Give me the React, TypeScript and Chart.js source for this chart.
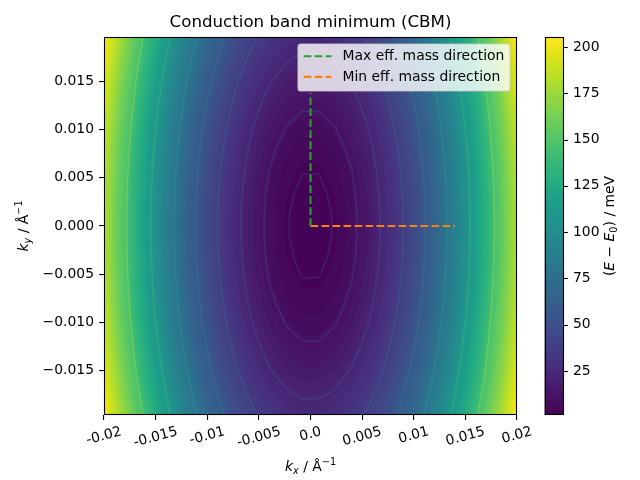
import React, { useEffect, useRef } from "react";
import { Chart, registerables } from "chart.js";

Chart.register(...registerables);

const FONT = '"DejaVu Sans", "Liberation Sans", sans-serif';
Chart.defaults.font.family = FONT;

// ---------------- data ----------------
const chartTitle = "Conduction band minimum (CBM)";

// sampling grid along kx (1/Å) and band energy contribution along kx (meV)
const kxGrid = [
  -0.02, -0.0184, -0.0168, -0.0152, -0.0136, -0.012, -0.0104, -0.0088, -0.0072, -0.0056, -0.004, -0.0024, -0.0008,
  0.0008, 0.0024, 0.004, 0.0056, 0.0072, 0.0088, 0.0104, 0.012, 0.0136, 0.0152, 0.0168, 0.0184, 0.02,
];
const energyAlongKx = [
  180.2, 152.5, 127.1, 104.1, 83.3, 64.9, 48.7, 34.9, 23.3, 14.1, 7.2, 2.6, 0.29,
  0.29, 2.6, 7.2, 14.1, 23.3, 34.9, 48.7, 64.9, 83.3, 104.1, 127.1, 152.5, 180.2,
];

// sampling grid along ky (1/Å) and band energy contribution along ky (meV)
const kyGrid = [
  -0.0196, -0.01729, -0.01499, -0.01268, -0.01038, -0.00807, -0.00576, -0.00346, -0.00115,
  0.00115, 0.00346, 0.00576, 0.00807, 0.01038, 0.01268, 0.01499, 0.01729, 0.0196,
];
const energyAlongKy = [
  24.39, 18.99, 14.27, 10.21, 6.84, 4.14, 2.11, 0.76, 0.08,
  0.08, 0.76, 2.11, 4.14, 6.84, 10.21, 14.27, 18.99, 24.39,
];
const energyOffset = 0.83;

const contourLineLevels = [3.0, 10.2, 21.6, 37.3, 56.7, 79.6, 108.6, 143.9];

const colorbarRange = [1.2, 205.4];
const colorbarTicks = [25, 50, 75, 100, 125, 150, 175, 200];

const xRange = [-0.02, 0.02];
const yRange = [-0.0196, 0.0196];
const xTicks = [-0.02, -0.015, -0.01, -0.005, 0, 0.005, 0.01, 0.015, 0.02];
const xTickLabels = ["-0.02", "-0.015", "-0.01", "-0.005", "0.0", "0.005", "0.01", "0.015", "0.02"];
const yTicks = [-0.015, -0.01, -0.005, 0, 0.005, 0.01, 0.015];

const maxMassLabel = "Max eff. mass direction";
const maxMassKx = [0, 0];
const maxMassKy = [0, 0.0138];
const minMassLabel = "Min eff. mass direction";
const minMassKx = [0, 0.014];
const minMassKy = [0, 0];

// ---------------- styling helpers ----------------
const FILL_LEVELS = 75;
const TICK_FONT = 13.9;

const VIRIDIS = [
  "#440154", "#471365", "#482475", "#463480", "#414487", "#3b528b", "#355f8d",
  "#2f6c8e", "#2a788e", "#25848e", "#21918c", "#1e9b8a", "#22a884", "#2fb47c",
  "#44bf70", "#5ec962", "#7ad151", "#9bd93c", "#bddf26", "#dfe318", "#fde725",
].map((h) => [parseInt(h.slice(1, 3), 16), parseInt(h.slice(3, 5), 16), parseInt(h.slice(5, 7), 16)]);

function viridis(t: number): number[] {
  const c = Math.max(0, Math.min(1, t));
  const p = c * (VIRIDIS.length - 1);
  const i = Math.min(VIRIDIS.length - 2, Math.floor(p));
  const f = p - i;
  return [0, 1, 2].map((k) => VIRIDIS[i][k] + (VIRIDIS[i + 1][k] - VIRIDIS[i][k]) * f);
}

function interp(xs: number[], ys: number[], x: number): number {
  const n = xs.length;
  if (x <= xs[0]) return ys[0];
  if (x >= xs[n - 1]) return ys[n - 1];
  let i = 0;
  while (x > xs[i + 1]) i++;
  const f = (x - xs[i]) / (xs[i + 1] - xs[i]);
  return ys[i] + f * (ys[i + 1] - ys[i]);
}

function bandColor(v: number): number[] {
  const [lo, hi] = colorbarRange;
  const step = (hi - lo) / FILL_LEVELS;
  let b = Math.floor((v - lo) / step);
  b = Math.max(0, Math.min(FILL_LEVELS - 1, b));
  const mid = lo + (b + 0.5) * step;
  return viridis((mid - lo) / (hi - lo));
}

type Seg = { t: string; it?: boolean; sc?: "sub" | "sup" };

function drawMath(ctx: CanvasRenderingContext2D, segs: Seg[], size: number, cx: number, baseY: number) {
  const fonts = segs.map((s) => `${s.it ? "italic " : ""}${s.sc ? size * 0.7 : size}px ${FONT}`);
  const widths = segs.map((s, i) => {
    ctx.font = fonts[i];
    return ctx.measureText(s.t).width;
  });
  const total = widths.reduce((a, b) => a + b, 0);
  let x = cx - total / 2;
  ctx.textAlign = "left";
  ctx.textBaseline = "alphabetic";
  segs.forEach((s, i) => {
    ctx.font = fonts[i];
    const dy = s.sc === "sub" ? size * 0.2 : s.sc === "sup" ? -size * 0.42 : 0;
    ctx.fillText(s.t, x, baseY + dy);
    x += widths[i];
  });
}

// ---------------- plugins ----------------
const fieldPlugin = {
  id: "bandField",
  beforeDatasetsDraw(chart: any) {
    const { ctx, chartArea: a, scales } = chart;
    const xs = scales.x;
    const ys = scales.y;
    const L = Math.round(a.left);
    const T = Math.round(a.top);
    const W = Math.round(a.right) - L;
    const H = Math.round(a.bottom) - T;
    const ex = new Float64Array(W);
    const gx = new Float64Array(W);
    const ey = new Float64Array(H);
    const gy = new Float64Array(H);
    const exAt = (p: number) => interp(kxGrid, energyAlongKx, xs.getValueForPixel(p));
    const eyAt = (p: number) => interp(kyGrid, energyAlongKy, ys.getValueForPixel(p));
    for (let i = 0; i < W; i++) {
      const p = L + i + 0.5;
      ex[i] = exAt(p);
      gx[i] = (exAt(p + 1) - exAt(p - 1)) / 2;
    }
    for (let j = 0; j < H; j++) {
      const p = T + j + 0.5;
      ey[j] = eyAt(p);
      gy[j] = (eyAt(p + 1) - eyAt(p - 1)) / 2;
    }
    const [lo, hi] = colorbarRange;
    const lineCols = contourLineLevels.map((lv) => viridis((lv - lo) / (hi - lo) + 0.15));
    const off = document.createElement("canvas");
    off.width = W;
    off.height = H;
    const octx = off.getContext("2d")!;
    const img = octx.createImageData(W, H);
    const d = img.data;
    const lw = 1.5;
    const alpha = 0.45;
    for (let j = 0; j < H; j++) {
      for (let i = 0; i < W; i++) {
        const v = energyOffset + ex[i] + ey[j];
        const c = bandColor(v);
        let r = c[0], g = c[1], b = c[2];
        const grad = Math.sqrt(gx[i] * gx[i] + gy[j] * gy[j]) || 1e-9;
        let best = Infinity, bi = -1;
        for (let k = 0; k < contourLineLevels.length; k++) {
          const dd = Math.abs(v - contourLineLevels[k]);
          if (dd < best) { best = dd; bi = k; }
        }
        const dist = best / grad;
        const cov = Math.max(0, Math.min(1, lw / 2 + 0.5 - dist));
        if (cov > 0) {
          const al = cov * alpha;
          const lc = lineCols[bi];
          r = r * (1 - al) + lc[0] * al;
          g = g * (1 - al) + lc[1] * al;
          b = b * (1 - al) + lc[2] * al;
        }
        const o = (j * W + i) * 4;
        d[o] = r; d[o + 1] = g; d[o + 2] = b; d[o + 3] = 255;
      }
    }
    octx.putImageData(img, 0, 0);
    ctx.save();
    ctx.drawImage(off, L, T);
    ctx.restore();
  },
};

const overlayPlugin = {
  id: "overlay",
  afterDatasetsDraw(chart: any) {
    const { ctx, chartArea: a } = chart;
    ctx.save();
    // axes frame
    ctx.strokeStyle = "#000";
    ctx.lineWidth = 1.1;
    ctx.setLineDash([]);
    ctx.strokeRect(Math.round(a.left) + 0.5, Math.round(a.top) + 0.5, Math.round(a.right - a.left) - 1, Math.round(a.bottom - a.top) - 1);

    // legend (upper right, inside axes)
    const fs = TICK_FONT;
    ctx.font = `${fs}px ${FONT}`;
    const items = chart.data.datasets;
    const textW = Math.max(...items.map((ds: any) => ctx.measureText(ds.label).width));
    const right = a.right - 7;
    const top = a.top + 7;
    const width = 5.6 + 27.8 + 11.1 + textW + 5.6;
    const height = 47;
    const left = right - width;
    ctx.beginPath();
    (ctx as any).roundRect(left, top, width, height, 2.8);
    ctx.fillStyle = "rgba(255,255,255,0.8)";
    ctx.fill();
    ctx.strokeStyle = "rgba(204,204,204,0.8)";
    ctx.lineWidth = 1.2;
    ctx.stroke();
    items.forEach((ds: any, i: number) => {
      const cy = top + 12.2 + i * 20.7;
      ctx.beginPath();
      ctx.setLineDash(ds.borderDash || []);
      ctx.strokeStyle = ds.borderColor;
      ctx.lineWidth = ds.borderWidth;
      ctx.moveTo(left + 5.6, cy);
      ctx.lineTo(left + 5.6 + 27.8, cy);
      ctx.stroke();
      ctx.setLineDash([]);
      ctx.fillStyle = "#000";
      ctx.textAlign = "left";
      ctx.textBaseline = "middle";
      ctx.fillText(ds.label, left + 44.5, cy);
    });
    ctx.restore();
  },
  afterDraw(chart: any) {
    const { ctx, chartArea: a, scales } = chart;
    ctx.save();
    ctx.fillStyle = "#000";

    // rotated x tick labels
    const xs = scales.x;
    ctx.font = `${TICK_FONT}px ${FONT}`;
    const th = (15 * Math.PI) / 180;
    xTicks.forEach((v, i) => {
      const px = xs.getPixelForValue(v);
      const label = xTickLabels[i];
      const w = ctx.measureText(label).width;
      const bh = w * Math.sin(th) + 14 * Math.cos(th);
      const cy = a.bottom + 9.8 + bh / 2;
      ctx.save();
      ctx.translate(px, cy);
      ctx.rotate(-th);
      ctx.textAlign = "center";
      ctx.textBaseline = "middle";
      ctx.fillText(label, 0, 0);
      ctx.restore();
    });

    // axis titles
    const midX = (a.left + a.right) / 2;
    const midY = (a.top + a.bottom) / 2;
    drawMath(ctx, [{ t: "k", it: true }, { t: "x", it: true, sc: "sub" }, { t: " / Å" }, { t: "−1", sc: "sup" }], TICK_FONT, midX, 471);
    ctx.save();
    ctx.translate(28, midY);
    ctx.rotate(-Math.PI / 2);
    drawMath(ctx, [{ t: "k", it: true }, { t: "y", it: true, sc: "sub" }, { t: " / Å" }, { t: "−1", sc: "sup" }], TICK_FONT, 0, 0);
    ctx.restore();

    // colorbar
    const cb = scales.cb;
    const cbL = a.right + 27.5;
    const cbW = 18.5;
    const T = Math.round(a.top);
    const B = Math.round(a.bottom);
    for (let py = T; py < B; py++) {
      const val = cb.getValueForPixel(py + 0.5);
      const c = bandColor(val);
      ctx.fillStyle = `rgb(${c[0]},${c[1]},${c[2]})`;
      ctx.fillRect(cbL, py, cbW, 1);
    }
    ctx.strokeStyle = "#000";
    ctx.lineWidth = 1.1;
    ctx.strokeRect(Math.round(cbL) + 0.5, T + 0.5, Math.round(cbW) - 1, B - T - 1);
    colorbarTicks.forEach((v) => {
      const py = Math.round(cb.getPixelForValue(v)) + 0.5;
      ctx.beginPath();
      ctx.moveTo(cbL + cbW, py);
      ctx.lineTo(cbL + cbW + 4.9, py);
      ctx.stroke();
    });
    ctx.fillStyle = "#000";
    ctx.save();
    ctx.translate(614, midY);
    ctx.rotate(-Math.PI / 2);
    drawMath(
      ctx,
      [{ t: "(" }, { t: "E", it: true }, { t: " − " }, { t: "E", it: true }, { t: "0", sc: "sub" }, { t: ") / meV" }],
      TICK_FONT,
      0,
      0
    );
    ctx.restore();
    ctx.restore();
  },
};

function fmtY(v: number): string {
  if (Math.abs(v) < 1e-12) return "0.000";
  return (v < 0 ? "−" : "") + Math.abs(v).toFixed(3);
}

export default function App() {
  const ref = useRef<HTMLCanvasElement>(null);
  useEffect(() => {
    document.body.style.margin = "0";
    const tickGrid = {
      display: true,
      drawOnChartArea: false,
      drawTicks: true,
      tickLength: 5,
      color: "#000",
      lineWidth: 1.1,
    };
    const chart = new Chart(ref.current as HTMLCanvasElement, {
      type: "scatter",
      data: {
        datasets: [
          {
            label: maxMassLabel,
            data: maxMassKx.map((x, i) => ({ x, y: maxMassKy[i] })),
            borderColor: "#2ca02c",
            backgroundColor: "#2ca02c",
            borderDash: [7.7, 3.3],
            borderWidth: 2.1,
            pointRadius: 0,
            showLine: true,
          },
          {
            label: minMassLabel,
            data: minMassKx.map((x, i) => ({ x, y: minMassKy[i] })),
            borderColor: "#ff7f0e",
            backgroundColor: "#ff7f0e",
            borderDash: [7.7, 3.3],
            borderWidth: 2.1,
            pointRadius: 0,
            showLine: true,
          },
        ],
      },
      options: {
        responsive: false,
        animation: false,
        devicePixelRatio: 1,
        layout: { padding: 0 },
        plugins: {
          legend: { display: false },
          tooltip: { enabled: false },
          title: {
            display: true,
            text: chartTitle,
            fullSize: false,
            color: "#000",
            font: { family: FONT, size: 16.67, weight: "normal", lineHeight: 1.2 },
            padding: { top: 12.9, bottom: 4.1 },
          },
        },
        scales: {
          x: {
            type: "linear",
            position: "bottom",
            min: xRange[0],
            max: xRange[1],
            afterBuildTicks: (s: any) => {
              s.ticks = xTicks.map((value) => ({ value }));
            },
            afterFit: (s: any) => {
              s.height = 65;
              s.paddingLeft = 0;
              s.paddingRight = 0;
            },
            ticks: { display: false },
            grid: tickGrid,
            border: { display: false },
          },
          y: {
            type: "linear",
            position: "left",
            min: yRange[0],
            max: yRange[1],
            afterBuildTicks: (s: any) => {
              s.ticks = yTicks.map((value) => ({ value }));
            },
            afterFit: (s: any) => {
              s.width = 104;
              s.paddingTop = 0;
              s.paddingBottom = 0;
            },
            ticks: {
              color: "#000",
              font: { family: FONT, size: TICK_FONT },
              padding: 5,
              callback: (v: any) => fmtY(Number(v)),
            },
            grid: tickGrid,
            border: { display: false },
          },
          cb: {
            type: "linear",
            axis: "y",
            position: "right",
            min: colorbarRange[0],
            max: colorbarRange[1],
            afterBuildTicks: (s: any) => {
              s.ticks = colorbarTicks.map((value) => ({ value }));
            },
            afterFit: (s: any) => {
              s.width = 123;
              s.paddingTop = 0;
              s.paddingBottom = 0;
            },
            ticks: {
              color: "#000",
              font: { family: FONT, size: TICK_FONT },
              padding: 5,
              callback: (v: any) => String(v),
            },
            grid: { display: false, drawTicks: true, tickLength: 51 },
            border: { display: false },
          },
        },
      } as any,
      plugins: [fieldPlugin, overlayPlugin],
    } as any);
    return () => chart.destroy();
  }, []);
  return (
    <div style={{ width: 640, height: 480 }}>
      <canvas ref={ref} width={640} height={480} style={{ display: "block", width: 640, height: 480 }} />
    </div>
  );
}
